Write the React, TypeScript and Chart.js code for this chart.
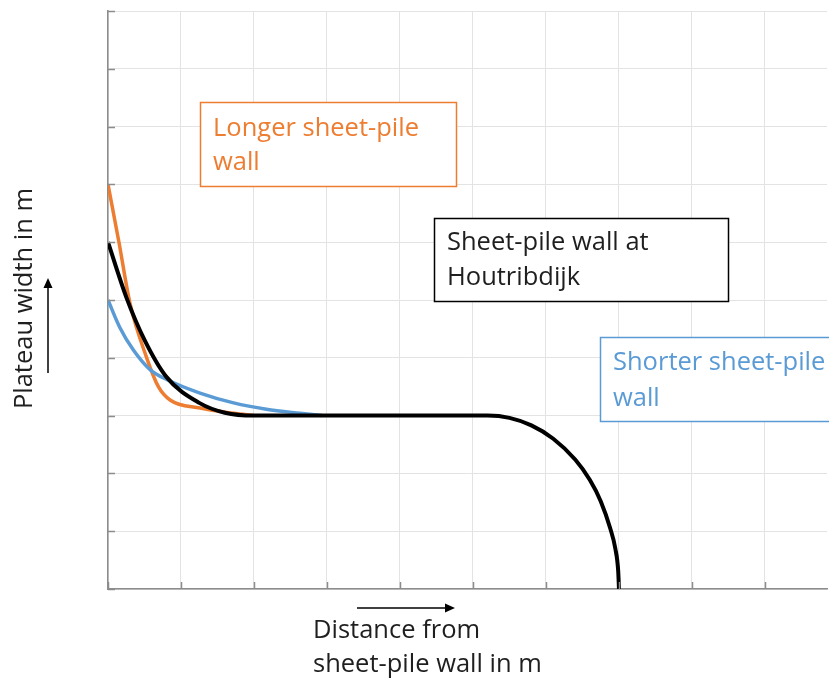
import React, { useEffect, useRef } from "react";
import { Chart, registerables } from "chart.js";

Chart.register(...registerables);

// Longer sheet-pile wall (orange)
const longerX = [0, 0.15, 0.3, 0.53, 0.69, 0.85, 1.26, 1.72, 2.0];
const longerY = [7, 6.0, 4.95, 4.0, 3.5, 3.27, 3.13, 3.04, 3.0];

// Shorter sheet-pile wall (blue)
const shorterX = [0, 0.16, 0.35, 0.58, 0.81, 1.26, 1.72, 2.17, 2.63, 2.93];
const shorterY = [5, 4.53, 4.13, 3.79, 3.62, 3.39, 3.22, 3.11, 3.04, 3.0];

// Sheet-pile wall at Houtribdijk (black)
const houtribX = [0, 0.25, 0.5, 0.8, 1.25, 1.6, 2.0, 5.2, 5.5, 5.8, 6.1, 6.4, 6.6, 6.75, 6.88, 6.95, 6.99, 7.0];
const houtribY = [6, 5.05, 4.31, 3.67, 3.22, 3.05, 3.0, 3.0, 2.96, 2.83, 2.6, 2.24, 1.89, 1.52, 1.05, 0.7, 0.3, 0];

const xTitleLines = ["Distance from", "sheet-pile wall in m"];
const yTitle = "Plateau width in m";
const longerLabel = ["Longer sheet-pile", "wall"];
const houtribLabel = ["Sheet-pile wall at", "Houtribdijk"];
const shorterLabel = ["Shorter sheet-pile", "wall"];

const X_MIN = 0;
const X_MAX = 9.85;
const Y_MIN = 0;
const Y_MAX = 10;

const ORANGE = "#ED7D31";
const BLUE = "#5B9BD5";
const TEXT = "#1f1f1f";
const AXIS = "#8c8c8c";
const GRID = "#e3e3e3";
const FONT = '25.5px "Open Sans"';

const toPts = (xs: number[], ys: number[]) => xs.map((x, i) => ({ x, y: ys[i] }));

const decorPlugin = {
  id: "decor",
  afterDraw(chart: any) {
    const ctx = chart.ctx as CanvasRenderingContext2D;
    const xs = chart.scales.x;
    const ys = chart.scales.y;
    const area = chart.chartArea;

    // inside tick marks
    ctx.save();
    ctx.strokeStyle = AXIS;
    ctx.lineWidth = 1.5;
    for (let v = Y_MIN; v <= Y_MAX; v++) {
      const py = Math.round(ys.getPixelForValue(v)) + 0.5;
      ctx.beginPath();
      ctx.moveTo(area.left, py);
      ctx.lineTo(area.left + 7, py);
      ctx.stroke();
    }
    for (let v = Math.ceil(X_MIN); v <= X_MAX; v++) {
      const px = Math.round(xs.getPixelForValue(v)) + 0.5;
      ctx.beginPath();
      ctx.moveTo(px, area.bottom);
      ctx.lineTo(px, area.bottom - 7);
      ctx.stroke();
    }
    ctx.restore();

    // annotation boxes
    const box = (x: number, y: number, w: number, h: number, color: string, lines: string[], tx: number, baselines: number[]) => {
      ctx.save();
      ctx.fillStyle = "#ffffff";
      ctx.fillRect(x, y, w, h);
      ctx.strokeStyle = color;
      ctx.lineWidth = 1.5;
      ctx.strokeRect(x, y, w, h);
      ctx.fillStyle = color === "#000000" ? TEXT : color;
      ctx.font = FONT;
      ctx.textAlign = "left";
      ctx.textBaseline = "alphabetic";
      lines.forEach((t, i) => ctx.fillText(t, tx, baselines[i]));
      ctx.restore();
    };
    box(200.5, 102.5, 256, 84, ORANGE, longerLabel, 213, [136, 170]);
    box(434.5, 218.5, 294, 83, "#000000", houtribLabel, 447, [250, 285]);
    box(600.5, 337.5, 260, 84, BLUE, shorterLabel, 613, [370, 406]);

    // axis titles
    ctx.save();
    ctx.fillStyle = TEXT;
    ctx.font = FONT;
    ctx.textAlign = "left";
    ctx.textBaseline = "alphabetic";
    ctx.fillText(xTitleLines[0], 313, 638);
    ctx.fillText(xTitleLines[1], 313, 672);
    ctx.restore();

    ctx.save();
    ctx.fillStyle = TEXT;
    ctx.font = FONT;
    ctx.translate(32, 298.5);
    ctx.rotate(-Math.PI / 2);
    ctx.textAlign = "center";
    ctx.textBaseline = "alphabetic";
    ctx.fillText(yTitle, 0, 0);
    ctx.restore();

    // arrows
    ctx.save();
    ctx.strokeStyle = "#000";
    ctx.fillStyle = "#000";
    ctx.lineWidth = 1.5;
    ctx.beginPath();
    ctx.moveTo(357, 608);
    ctx.lineTo(446, 608);
    ctx.stroke();
    ctx.beginPath();
    ctx.moveTo(455, 608);
    ctx.lineTo(445, 603.5);
    ctx.lineTo(445, 612.5);
    ctx.closePath();
    ctx.fill();

    ctx.beginPath();
    ctx.moveTo(48, 373);
    ctx.lineTo(48, 287);
    ctx.stroke();
    ctx.beginPath();
    ctx.moveTo(48, 278);
    ctx.lineTo(43.5, 288);
    ctx.lineTo(52.5, 288);
    ctx.closePath();
    ctx.fill();
    ctx.restore();
  },
};

export default function App() {
  const ref = useRef<HTMLCanvasElement | null>(null);

  useEffect(() => {
    if (!ref.current) return;
    const chart = new Chart(ref.current, {
      type: "scatter",
      data: {
        datasets: [
          {
            label: "Longer sheet-pile wall",
            data: toPts(longerX, longerY),
            showLine: true,
            borderColor: ORANGE,
            borderWidth: 3.5,
            pointRadius: 0,
            cubicInterpolationMode: "monotone",
            order: 3,
          },
          {
            label: "Shorter sheet-pile wall",
            data: toPts(shorterX, shorterY),
            showLine: true,
            borderColor: BLUE,
            borderWidth: 3.5,
            pointRadius: 0,
            cubicInterpolationMode: "monotone",
            order: 2,
          },
          {
            label: "Sheet-pile wall at Houtribdijk",
            data: toPts(houtribX, houtribY),
            showLine: true,
            borderColor: "#000000",
            borderWidth: 4,
            pointRadius: 0,
            cubicInterpolationMode: "monotone",
            order: 1,
          },
        ],
      },
      options: {
        responsive: false,
        animation: false,
        layout: { padding: { top: 11, right: 2, left: 0, bottom: 0 } },
        plugins: { legend: { display: false }, tooltip: { enabled: false } },
        scales: {
          x: {
            type: "linear",
            min: X_MIN,
            max: X_MAX,
            ticks: { display: false, stepSize: 1, includeBounds: false },
            grid: { color: GRID, lineWidth: 1, drawTicks: false },
            border: { color: AXIS, width: 1.5 },
            afterFit: (s: any) => {
              s.height = 93;
            },
          },
          y: {
            type: "linear",
            min: Y_MIN,
            max: Y_MAX,
            ticks: { display: false, stepSize: 1 },
            grid: { color: GRID, lineWidth: 1, drawTicks: false },
            border: { color: AXIS, width: 1.5 },
            afterFit: (s: any) => {
              s.width = 108;
            },
          },
        },
      },
      plugins: [decorPlugin],
    });
    return () => chart.destroy();
  }, []);

  return (
    <div style={{ position: "absolute", left: 0, top: 0, width: 829, height: 682, background: "#fff" }}>
      <canvas ref={ref} width={829} height={682} style={{ display: "block" }} />
    </div>
  );
}
